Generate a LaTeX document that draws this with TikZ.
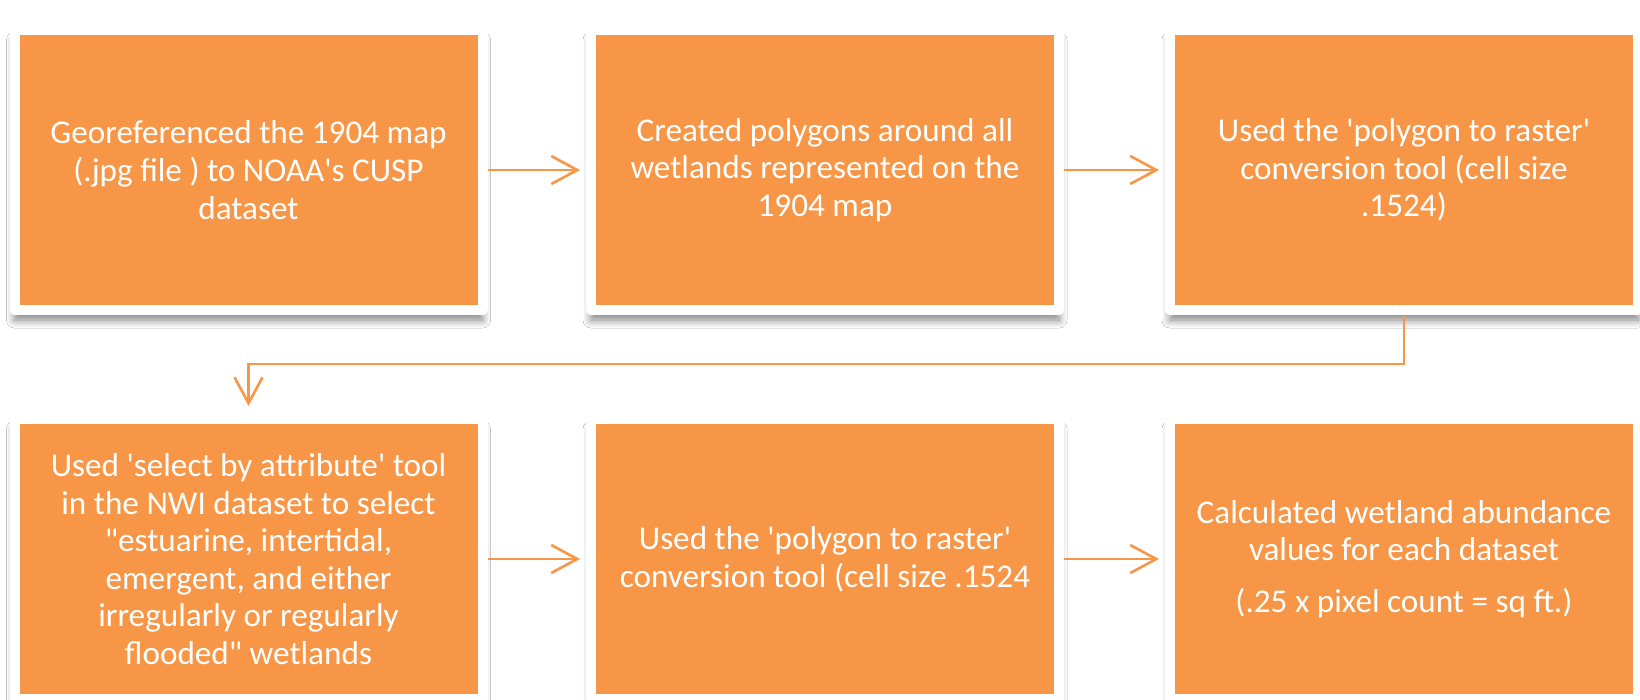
\documentclass[tikz,border=0pt]{standalone}
\usepackage{fontspec}
\setmainfont{Carlito}[Ligatures=TeXOff]
\usetikzlibrary{arrows.meta,shadows.blur}
\definecolor{orng}{HTML}{F79646}
\tikzset{
  stepbox/.style={fill=orng, draw=white, line width=5pt, line join=round,
    minimum width=234pt, minimum height=140pt, inner sep=0pt,
    align=center, text=white, font=\fontsize{16.6}{18.8}\selectfont,
    blur shadow={shadow xshift=0pt, shadow yshift=-5pt, shadow blur radius=4pt, shadow blur steps=10, shadow opacity=50}},
  conn/.style={draw=orng, line width=1.3pt, -{Straight Barb[length=13pt,width=14pt,line width=1.3pt]}}
}
\begin{document}
\begin{tikzpicture}[x=0.5pt,y=-0.5pt]
\useasboundingbox[fill=white] (0,0) rectangle (1640,700);
\node[stepbox] (b1) at (248.5,170) {Georeferenced the 1904 map\\(.jpg file ) to NOAA's CUSP\\dataset};
\node[stepbox] (b2) at (825,170) {Created polygons around all\\wetlands represented on the\\1904 map};
\node[stepbox] (b3) at (1404,170) {Used the 'polygon to raster'\\conversion tool (cell size\\.1524)};
\node[stepbox] (b4) at (248.5,559) {Used 'select by attribute' tool\\in the NWI dataset to select\\"estuarine, intertidal,\\emergent, and either\\irregularly or regularly\\flooded" wetlands};
\node[stepbox] (b5) at (825,559) {Used the 'polygon to raster'\\conversion tool (cell size .1524};
\node[stepbox] (b6) at (1404,559) {Calculated wetland abundance\\values for each dataset\\[7pt](.25 x pixel count = sq ft.)};
\coordinate (e1) at (1404,364);
\coordinate (e2) at (248.5,364);
\draw[conn, shorten >=3pt] (b1.east) -- (b2.west);
\draw[conn, shorten >=3pt] (b2.east) -- (b3.west);
\draw[conn, shorten >=3pt] (b4.east) -- (b5.west);
\draw[conn, shorten >=3pt] (b5.east) -- (b6.west);
\draw[conn, shorten >=4pt] (b3.south) -- (e1) -- (e2) -- (b4.north);
\end{tikzpicture}
\end{document}
